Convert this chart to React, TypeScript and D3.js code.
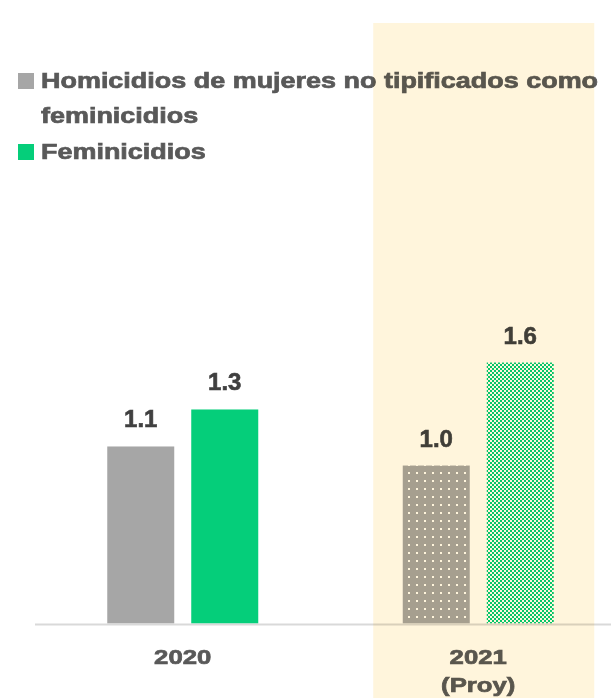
import React from "react";
import * as d3 from "d3";

const years = ["2020", "2021"];
const yearSubLabels = ["", "(Proy)"];
const seriesNames = ["Homicidios de mujeres no tipificados como feminicidios", "Feminicidios"];
const legendLines = ["Homicidios de mujeres no tipificados como", "feminicidios"];
const homicidios = [1.086, 0.969];
const feminicidios = [1.313, 1.601];
const projectedYear = "2021";

const W = 611;
const H = 698;
const FONT = "'Liberation Sans', Arial, Helvetica, sans-serif";

// approximate rendered-width factor of the reference's wide bold text
const WIDE = 1.225;

function measure(text: string, size: number) {
  if (typeof document === "undefined") return text.length * size * 0.55;
  const c = document.createElement("canvas").getContext("2d");
  if (!c) return text.length * size * 0.55;
  c.font = `bold ${size}px ${FONT}`;
  return c.measureText(text).width;
}

function WideText(props: { x: number; y: number; size: number; fill: string; anchor?: string; children: string }) {
  const w = measure(props.children, props.size) * WIDE;
  return (
    <text
      x={props.x}
      y={props.y}
      fontSize={props.size}
      fontWeight="bold"
      fill={props.fill}
      stroke={props.fill}
      strokeWidth={0.7}
      textAnchor={props.anchor ?? "start"}
      textLength={w}
      lengthAdjust="spacingAndGlyphs"
    >
      {props.children}
    </text>
  );
}

export default function App() {
  const x0 = d3.scaleBand<string>().domain(years).range([35, 626]).paddingInner(0).paddingOuter(0);
  const groupW = 151;
  const x1 = d3
    .scaleBand<string>()
    .domain(["h", "f"])
    .range([(x0.bandwidth() - groupW) / 2, (x0.bandwidth() + groupW) / 2])
    .paddingInner(0.2024)
    .paddingOuter(0);
  const y = d3.scaleLinear().domain([0, 2]).range([623.5, 297.5]);

  const bars: { key: string; year: string; s: string; v: number }[] = [];
  years.forEach((yr, i) => {
    bars.push({ key: yr + "h", year: yr, s: "h", v: homicidios[i] });
    bars.push({ key: yr + "f", year: yr, s: "f", v: feminicidios[i] });
  });

  const fillFor = (b: { year: string; s: string }) => {
    const proj = b.year === projectedYear;
    if (b.s === "h") return proj ? "url(#dotsGray)" : "#A6A6A6";
    return proj ? "url(#checkGreen)" : "#05CE7A";
  };

  const hx0 = (x0(projectedYear) ?? 0) + x0.bandwidth() / 2 - 105;

  return (
    <div style={{ position: "absolute", left: 0, top: 0, width: W, height: H }}>
      <svg width={W} height={H} style={{ display: "block", background: "#fff" }} fontFamily={FONT}>
        <defs>
          <pattern id="dotsGray" patternUnits="userSpaceOnUse" width={8} height={8} x={0} y={0}>
            <rect width={8} height={8} fill="#A6A6A6" />
            <rect x={0} y={0} width={2} height={2} fill="#ffffff" />
          </pattern>
          <pattern id="checkGreen" patternUnits="userSpaceOnUse" width={4} height={4} x={0} y={0}>
            <rect width={4} height={4} fill="#ffffff" />
            <rect x={0} y={0} width={2} height={2} fill="#05CE7A" />
            <rect x={2} y={2} width={2} height={2} fill="#05CE7A" />
          </pattern>
        </defs>

        {/* legend */}
        <rect x={18} y={73} width={16} height={16} fill="#A6A6A6" />
        <WideText x={41} y={88} size={22} fill="#595959">{legendLines[0]}</WideText>
        <WideText x={41} y={123} size={22} fill="#595959">{legendLines[1]}</WideText>
        <rect x={18} y={144} width={16} height={16} fill="#05CE7A" />
        <WideText x={41} y={159} size={22} fill="#595959">{seriesNames[1]}</WideText>

        {/* bars */}
        {bars.map((b) => {
          const bx = (x0(b.year) ?? 0) + (x1(b.s) ?? 0);
          const by = y(b.v);
          return (
            <g key={b.key}>
              <rect x={bx} y={by} width={x1.bandwidth()} height={y(0) - by} fill={fillFor(b)} />
              <text
                x={bx + x1.bandwidth() / 2}
                y={by - 19}
                textAnchor="middle"
                fontSize={24}
                fontWeight="bold"
                fill="#404040"
                stroke="#404040"
                strokeWidth={0.6}
              >
                {b.v.toFixed(1)}
              </text>
            </g>
          );
        })}

        {/* axis */}
        <line x1={35} x2={W} y1={624.5} y2={624.5} stroke="#D9D9D9" strokeWidth={2} />
        {years.map((yr, i) => {
          const cx = (x0(yr) ?? 0) + x0.bandwidth() / 2;
          return (
            <g key={yr}>
              <WideText x={cx} y={664} size={21} fill="#595959" anchor="middle">{yr}</WideText>
              {yearSubLabels[i] ? (
                <WideText x={cx} y={692} size={21} fill="#595959" anchor="middle">{yearSubLabels[i]}</WideText>
              ) : null}
            </g>
          );
        })}

        {/* projection highlight */}
        <rect
          x={hx0}
          y={23}
          width={221}
          height={H - 23}
          fill="#FFF5DC"
          style={{ mixBlendMode: "multiply" }}
        />
      </svg>
    </div>
  );
}
